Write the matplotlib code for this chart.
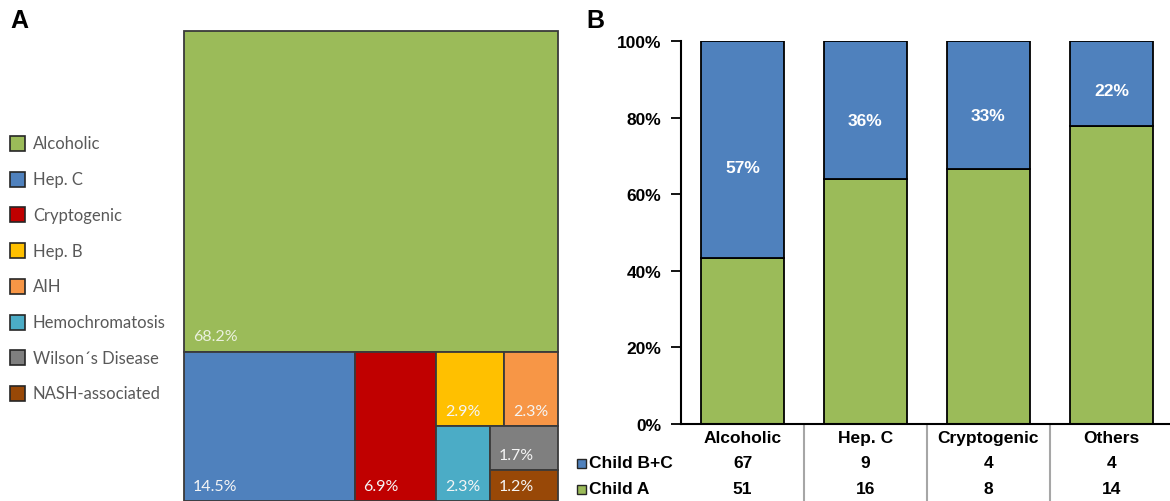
import matplotlib.pyplot as plt
from matplotlib.patches import Rectangle
from matplotlib.transforms import blended_transform_factory

# panel A: etiology shares (%)
etiology = ['Alcoholic', 'Hep. C', 'Cryptogenic', 'Hep. B', 'AIH',
            'Hemochromatosis', 'Wilson\u00b4s Disease', 'NASH-associated']
share = [68.2, 14.5, 6.9, 2.9, 2.3, 2.3, 1.7, 1.2]
tm_colors = ['#9BBB59', '#4F81BD', '#C00000', '#FFC000', '#F79646',
             '#4BACC6', '#7F7F7F', '#984807']

# panel B: Child-Pugh class per etiology
categories = ['Alcoholic', 'Hep. C', 'Cryptogenic', 'Others']
child_bc = [67, 9, 4, 4]
child_a = [51, 16, 8, 14]
row_names = ['Child B+C', 'Child A']

GREEN = '#9BBB59'
BLUE = '#4F81BD'
W, H = 1170, 502

plt.rcParams['font.family'] = ['Liberation Sans', 'DejaVu Sans']
fig = plt.figure(figsize=(W / 100, H / 100), dpi=100)


def split(vals, box, vertical):
    # cut a box into pieces proportional to vals
    x0, y0, w, h = box
    tot = sum(vals)
    out = []
    for v in vals:
        if vertical:
            hh = h * v / tot
            out.append((x0, y0, w, hh))
            y0 += hh
        else:
            ww = w * v / tot
            out.append((x0, y0, ww, h))
            x0 += ww
    return out


s = share
alc, rest = split([s[0], sum(s[1:])], (0, 0, 1, 1), True)
hepc, crypt, small = split([s[1], s[2], sum(s[3:])], rest, False)
top, bottom = split([s[3] + s[4], s[5] + s[6] + s[7]], small, True)
hepb, aih = split([s[3], s[4]], top, False)
hemo, wn = split([s[5], s[6] + s[7]], bottom, False)
wil, nash = split([s[6], s[7]], wn, True)
rects = [alc, hepc, crypt, hepb, aih, hemo, wil, nash]

axA = fig.add_axes([184 / W, 0, (558 - 184) / W, (502 - 32) / H])
axA.set_xlim(0, 1)
axA.set_ylim(1, 0)
axA.axis('off')
for i, (x, y, w, h) in enumerate(rects):
    axA.add_patch(Rectangle((x, y), w, h, facecolor=tm_colors[i],
                            edgecolor='#3A3A3A', linewidth=1.3, clip_on=False))
    axA.annotate(f'{share[i]}%', xy=(x, y + h), xytext=(6.5, 11),
                 textcoords='offset points', ha='left', va='center',
                 color='#EBF1DE' if i == 0 else '#F5F5F5',
                 fontsize=11.5, family=['Lato', 'DejaVu Sans'])

# legend for panel A
axL = fig.add_axes([0, 0, 184 / W, 1])
axL.set_xlim(0, 184)
axL.set_ylim(H, 0)
axL.axis('off')
for i, name in enumerate(etiology):
    yc = 144.5 + i * 35.7
    axL.add_patch(Rectangle((10, yc - 7.5), 15, 15, facecolor=tm_colors[i],
                            edgecolor='#262626', linewidth=1.2))
    axL.text(33, yc, name, va='center', ha='left', color='#595959',
             fontsize=12, family=['Lato', 'DejaVu Sans'])

fig.text(10 / W, 1 - 21 / H, 'A', fontsize=18, fontweight='bold', va='center')
fig.text(586 / W, 1 - 21 / H, 'B', fontsize=18, fontweight='bold', va='center')

# panel B: stacked percentage bars
axB = fig.add_axes([681 / W, (H - 425) / H, 492 / W, 383 / H])
x = range(len(categories))
tot = [a + b for a, b in zip(child_a, child_bc)]
frac_a = [a / t for a, t in zip(child_a, tot)]
frac_bc = [b / t for b, t in zip(child_bc, tot)]
axB.bar(x, frac_a, width=0.667, color=GREEN, edgecolor='black', linewidth=1.3)
axB.bar(x, frac_bc, bottom=frac_a, width=0.667, color=BLUE,
        edgecolor='black', linewidth=1.3)
for i in x:
    axB.text(i, frac_a[i] + 0.42 * frac_bc[i], f'{round(frac_bc[i] * 100)}%',
             ha='center', va='center', color='white', fontsize=12.5,
             fontweight='bold')

axB.set_xlim(-0.5, 3.5)
axB.set_ylim(0, 1)
axB.set_yticks([0, 0.2, 0.4, 0.6, 0.8, 1.0])
axB.set_yticklabels([f'{v}%' for v in range(0, 101, 20)],
                    fontsize=12.5, fontweight='bold')
axB.set_xticks([])
axB.tick_params(axis='y', length=7, width=1.3, pad=7)
for side in ['top', 'right']:
    axB.spines[side].set_visible(False)
for side in ['left', 'bottom']:
    axB.spines[side].set_linewidth(1.5)

# data table below the bars
tr = blended_transform_factory(axB.transData, fig.transFigure)
for i, cat in enumerate(categories):
    axB.text(i, 1 - 439 / H, cat, transform=tr, ha='center', va='center',
             fontsize=12.5, fontweight='bold', clip_on=False)
    axB.text(i, 1 - 464 / H, str(child_bc[i]), transform=tr, ha='center',
             va='center', fontsize=12.5, fontweight='bold', clip_on=False)
    axB.text(i, 1 - 490 / H, str(child_a[i]), transform=tr, ha='center',
             va='center', fontsize=12.5, fontweight='bold', clip_on=False)
for b in [0.5, 1.5, 2.5, 3.5]:
    axB.plot([b, b], [1 - 427 / H, 0], transform=tr, color='#A6A6A6',
             linewidth=1.5, clip_on=False)

for row, col, yp in zip(row_names, [BLUE, GREEN], [464, 490]):
    fig.patches.append(Rectangle((577 / W, 1 - (yp + 4.5) / H), 9 / W, 9 / H,
                                 transform=fig.transFigure, facecolor=col,
                                 edgecolor='#262626', linewidth=1.0))
    fig.text(589 / W, 1 - yp / H, row, ha='left', va='center',
             fontsize=12.5, fontweight='bold')

fig.savefig('out.png', dpi=100)
